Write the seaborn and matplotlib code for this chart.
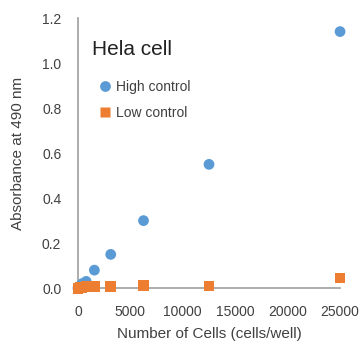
import matplotlib
matplotlib.use("Agg")
import matplotlib.pyplot as plt
import seaborn as sns
import pandas as pd

cells = [0, 195, 390, 781, 1563, 3125, 6250, 12500, 25000]
high_control = [0.0, 0.01, 0.02, 0.03, 0.08, 0.15, 0.30, 0.55, 1.14]
low_control = [0.0, 0.002, 0.004, 0.006, 0.008, 0.008, 0.012, 0.01, 0.045]
series_names = ["High control", "Low control"]
x_ticks = [0, 5000, 10000, 15000, 20000, 25000]
y_ticks = [0.0, 0.2, 0.4, 0.6, 0.8, 1.0, 1.2]

df = pd.DataFrame({
    "cells": cells * 2,
    "abs": high_control + low_control,
    "series": [series_names[0]] * len(cells) + [series_names[1]] * len(cells),
})

sns.set_style("white")
plt.rcParams['font.family'] = ['Liberation Sans', 'DejaVu Sans']

fig = plt.figure(figsize=(3.61, 3.41), dpi=100)
ax = fig.add_axes([0.216, 0.155, 0.726, 0.792])

palette = {"High control": "#5B9BD5", "Low control": "#ED7D31"}
sns.scatterplot(data=df, x="cells", y="abs", hue="series", style="series",
                markers={"High control": "o", "Low control": "s"},
                palette=palette, s=60, edgecolor="none", ax=ax, clip_on=False,
                zorder=3)

ax.set_xlim(0, 25000)
ax.set_ylim(0, 1.2)
ax.set_xticks(x_ticks)
ax.set_yticks(y_ticks)
ax.set_yticklabels([f"{v:.1f}" for v in y_ticks])
ax.tick_params(labelsize=10, colors="#404040", length=0)
ax.tick_params(axis="y", pad=12)
ax.tick_params(axis="x", pad=12)
for s in ["top", "right"]:
    ax.spines[s].set_visible(False)
for s in ["left", "bottom"]:
    ax.spines[s].set_color("#A6A6A6")
    ax.spines[s].set_linewidth(1.3)
ax.set_xlabel("Number of Cells (cells/well)", fontsize=11, color="#404040", labelpad=6)
ax.set_ylabel("Absorbance at 490 nm", fontsize=11, color="#404040", labelpad=12)

ax.text(0.053, 0.882, "Hela cell", transform=ax.transAxes, fontsize=15,
        color="#222222", va="center")
leg = ax.legend(loc="upper left", bbox_to_anchor=(0.036, 0.817), frameon=False,
                fontsize=10, handletextpad=0.35, labelspacing=0.85,
                handlelength=0.8, markerscale=1.0)
for t in leg.get_texts():
    t.set_color("#404040")

fig.savefig("out.png", dpi=100)
